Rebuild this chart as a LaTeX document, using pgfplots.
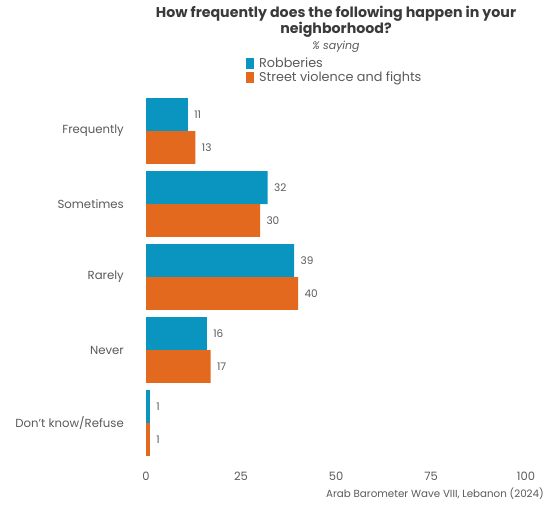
\documentclass[border=0pt]{standalone}
\usepackage{fontspec}
\setmainfont{Poppins}
\usepackage{pgfplots}
\pgfplotsset{compat=1.18}
\definecolor{rob}{HTML}{0A94C0}
\definecolor{str}{HTML}{E2691E}
\definecolor{txt}{HTML}{5A5A5A}
\definecolor{ttl}{HTML}{3A3A3A}
\begin{document}
\begin{tikzpicture}[x=1pt,y=1pt]
\path[use as bounding box] (0,0) rectangle (545,504);
\begin{axis}[
  at={(146pt,44.5pt)}, anchor=south west,
  scale only axis, width=380pt, height=365pt,
  xmin=0, xmax=100, ymin=-0.5, ymax=4.5,
  xbar, bar width=0.45,
  axis line style={draw=none},
  major tick length=0pt,
  xtick={0,25,50,75,100},
  ytick={0,1,2,3,4},
  yticklabels={Don't know/Refuse,Never,Rarely,Sometimes,Frequently},
  /pgf/number format/assume math mode=true,
  xticklabel style={font=\fontsize{11.5}{13}\selectfont, text=txt, inner sep=0pt, yshift=-12pt},
  yticklabel style={font=\fontsize{11.7}{13}\selectfont, text=txt, inner sep=0pt, xshift=-22pt},
  nodes near coords,
  nodes near coords style={font=\fontsize{10.5}{12}\selectfont, text=txt, anchor=west, xshift=3pt},
  legend style={at={(rel axis cs:0.263,1.106)}, anchor=north west, draw=none, fill=none,
    font=\fontsize{12.8}{14}\selectfont, text=txt, inner sep=0pt, row sep=-1.5pt, column sep=3pt,
    legend cell align=left},
  legend image code/.code={\fill[#1] (0pt,-5.5pt) rectangle (8pt,5.5pt);},
]
\addplot[fill=rob, draw=none, bar shift=0.225] coordinates {(11,4) (32,3) (39,2) (16,1) (1,0)};
\addlegendentry{Robberies}
\addplot[fill=str, draw=none, bar shift=-0.225] coordinates {(13,4) (30,3) (40,2) (17,1) (1,0)};
\addlegendentry{Street violence and fights}
\end{axis}
\node[align=center, text=ttl, font=\bfseries\fontsize{14.2}{16}\selectfont] at (336,482) {How frequently does the following happen in your\\neighborhood?};
\node[text=txt, font=\itshape\fontsize{11}{12}\selectfont] at (336,457.5) {\% saying};
\node[anchor=east, text=txt, font=\fontsize{10.3}{12}\selectfont, inner sep=0pt] at (544,10) {Arab Barometer Wave VIII, Lebanon (2024)};
\end{tikzpicture}
\end{document}
